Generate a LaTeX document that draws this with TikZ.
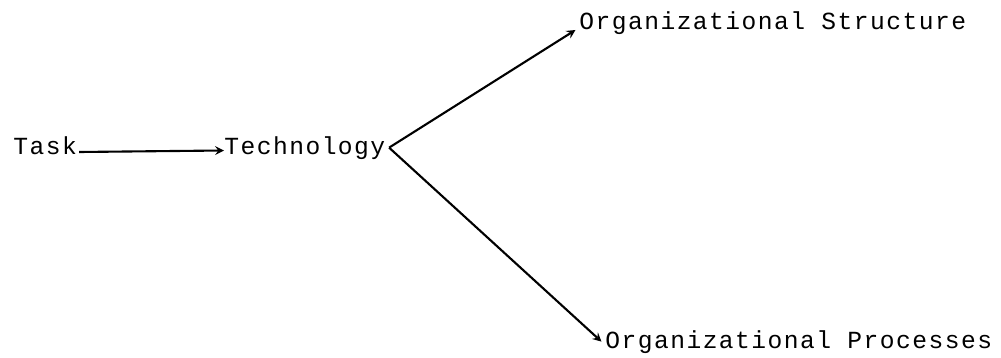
\documentclass[tikz,border=0pt]{standalone}
\usepackage{fontspec}
\setmonofont[LetterSpace=6]{Liberation Mono}
\usepackage{tikz}

\tikzset{
    rotulo/.style={font=\ttfamily\fontsize{14}{16}\selectfont, inner sep=0pt},
    seta/.style={->, line width=1.2pt}
}

\begin{document}
\begin{tikzpicture}[x=0.02cm, y=-0.02cm, >=stealth]
    \useasboundingbox (0,0) rectangle (1001,358);

    % termos do diagrama
    \node[rotulo, anchor=base west] (task) at (13,154) {Task};
    \node[rotulo, anchor=base west] (tech) at (224,154) {Technology};
    \node[rotulo, anchor=base west] (estrutura) at (579,30) {Organizational Structure};
    \node[rotulo, anchor=base west] (processos) at (605,348) {Organizational Processes};

    % setas
    \draw[seta] (task.base east) ++(2,-2) -- ([yshift=2pt]tech.base west);
    \draw[seta] ([xshift=2pt]tech.east) -- ([xshift=-2pt]estrutura.base west);
    \draw[seta] ([xshift=2pt]tech.east) -- ([xshift=-2pt]processos.west);

\end{tikzpicture}
\end{document}
